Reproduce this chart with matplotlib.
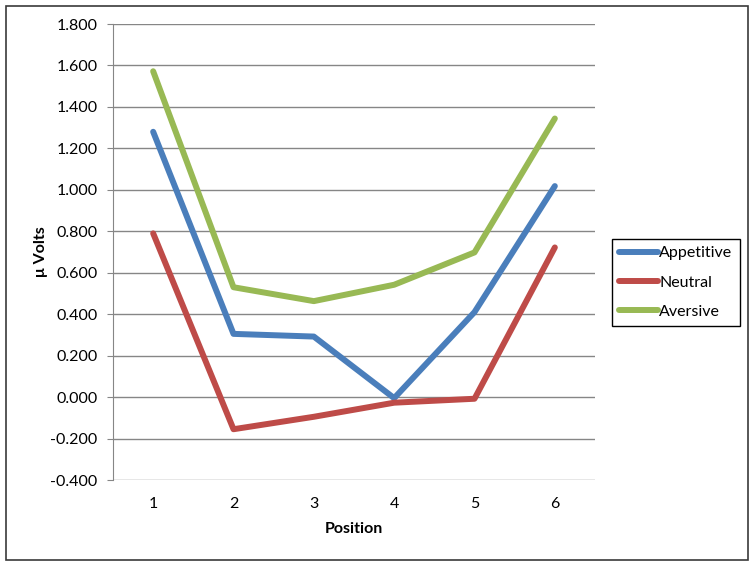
import matplotlib
matplotlib.use("Agg")
import matplotlib.pyplot as plt
from matplotlib.patches import Rectangle

plt.rcParams['font.family'] = ['Lato', 'DejaVu Sans']

positions = [1, 2, 3, 4, 5, 6]
appetitive = [1.280, 0.305, 0.292, -0.005, 0.410, 1.018]
neutral = [0.790, -0.155, -0.095, -0.027, -0.008, 0.722]
aversive = [1.572, 0.530, 0.463, 0.542, 0.698, 1.344]
yticks = [-0.4, -0.2, 0.0, 0.2, 0.4, 0.6, 0.8, 1.0, 1.2, 1.4, 1.6, 1.8]

fig = plt.figure(figsize=(7.54, 5.66), dpi=100)
ax = fig.add_axes((113/754, 1-480/566, 482/754, 456/566))

# outer chart border
fig.patches.append(Rectangle((6/754, 6/566), 742/754, 554/566, transform=fig.transFigure,
                             fill=False, ec='#3a3a3a', lw=1.2))

ax.plot(positions, appetitive, color='#4A7EBB', lw=4.3, label='Appetitive', solid_capstyle='round')
ax.plot(positions, neutral, color='#BE4B48', lw=4.3, label='Neutral', solid_capstyle='round')
ax.plot(positions, aversive, color='#98B954', lw=4.3, label='Aversive', solid_capstyle='round')

ax.set_xlim(0.5, 6.5)
ax.set_ylim(-0.4, 1.8)
ax.set_yticks(yticks)
ax.set_yticklabels(['%.3f' % v for v in yticks])
ax.set_xticks(positions)
ax.yaxis.grid(True, color='#868686', lw=1)
ax.set_axisbelow(True)
for s in ['top', 'right', 'bottom']:
    ax.spines[s].set_visible(False)
ax.spines['left'].set_color('#868686')
ax.tick_params(axis='y', length=4, color='#868686', pad=7, labelsize=11.5)
ax.tick_params(axis='x', length=0, pad=12, labelsize=11.5)

ax.set_xlabel('Position', fontsize=11.5, fontweight='bold')
ax.xaxis.set_label_coords(0.5, -0.092)
ax.set_ylabel('μ Volts', fontsize=11.5, fontweight='bold')
ax.yaxis.set_label_coords(-0.135, 0.5)

leg = fig.legend(loc='center', bbox_to_anchor=(676/754, 1-282.5/566), fontsize=11.5,
                 fancybox=False, edgecolor='black', framealpha=1, handlelength=2.4,
                 handletextpad=0.1, labelspacing=0.95, borderpad=0.45, borderaxespad=0)
leg.get_frame().set_linewidth(1.0)

fig.savefig('out.png', dpi=100)
